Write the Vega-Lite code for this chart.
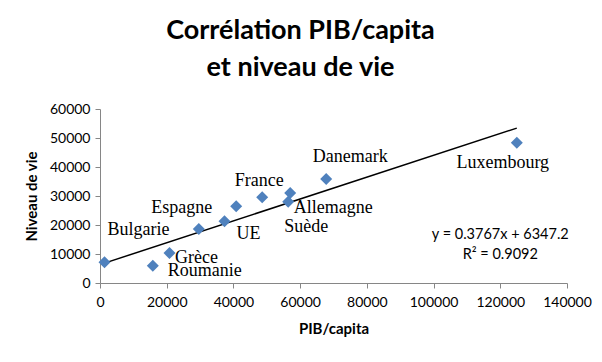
{
  "$schema": "https://vega.github.io/schema/vega-lite/v6.json",
  "width": 467,
  "height": 174,
  "autosize": "none",
  "padding": {"left": 100, "top": 109, "right": 35, "bottom": 79},
  "background": "white",
  "title": {
    "text": ["Corrélation PIB/capita", "et niveau de vie"],
    "font": "Lato",
    "fontSize": 27,
    "fontWeight": "bold",
    "color": "#000000",
    "lineHeight": 37,
    "anchor": "middle",
    "dx": -33,
    "offset": 20
  },
  "datasets": {
    "pays": [
      {"pays": "Bulgarie", "pib": 1350, "niveau": 7140},
      {"pays": "Roumanie", "pib": 15830, "niveau": 5970},
      {"pays": "Grèce", "pib": 20830, "niveau": 10340},
      {"pays": "Espagne", "pib": 29620, "niveau": 18620},
      {"pays": "UE", "pib": 37320, "niveau": 21280},
      {"pays": "", "pib": 40830, "niveau": 26450},
      {"pays": "France", "pib": 48630, "niveau": 29550},
      {"pays": "Allemagne", "pib": 57020, "niveau": 31030},
      {"pays": "Suède", "pib": 56420, "niveau": 28030},
      {"pays": "Danemark", "pib": 67810, "niveau": 35860},
      {"pays": "Luxembourg", "pib": 124950, "niveau": 48380}
    ],
    "tendance": [
      {"pib": 1350, "niveau": 6856},
      {"pib": 124950, "niveau": 53416}
    ],
    "equation": [
      {"txt": "y = 0.3767x + 6347.2", "pib": 120000, "niveau": 16550},
      {"txt": "R² = 0.9092", "pib": 120000, "niveau": 9650}
    ]
  },
  "encoding": {
    "x": {
      "field": "pib",
      "type": "quantitative",
      "title": "PIB/capita",
      "scale": {"domain": [0, 140000], "nice": false, "zero": false},
      "axis": {"values": [0, 20000, 40000, 60000, 80000, 100000, 120000, 140000], "format": "d", "labelPadding": 7, "titlePadding": 12, "labelOverlap": false, "labelFlush": false, "labelBound": false}
    },
    "y": {
      "field": "niveau",
      "type": "quantitative",
      "title": "Niveau de vie",
      "scale": {"domain": [0, 60000], "nice": false, "zero": false},
      "axis": {"values": [0, 10000, 20000, 30000, 40000, 50000, 60000], "format": "d", "labelPadding": 5, "titlePadding": 10, "labelOverlap": false, "labelFlush": false}
    }
  },
  "layer": [
    {
      "data": {"name": "tendance"},
      "mark": {"type": "line", "color": "#000000", "strokeWidth": 1.5},
      "encoding": {}
    },
    {
      "data": {"name": "pays"},
      "mark": {"type": "point", "shape": "diamond", "filled": true, "size": 144, "color": "#4F81BD", "opacity": 1}
    },
    {
      "data": {"name": "pays"},
      "transform": [{"filter": "datum.pays === 'Bulgarie'"}],
      "mark": {"type": "text", "dx": 34, "dy": -27},
      "encoding": {"text": {"field": "pays"}}
    },
    {
      "data": {"name": "pays"},
      "transform": [{"filter": "datum.pays === 'Roumanie'"}],
      "mark": {"type": "text", "dx": 52, "dy": 10},
      "encoding": {"text": {"field": "pays"}}
    },
    {
      "data": {"name": "pays"},
      "transform": [{"filter": "datum.pays === 'Grèce'"}],
      "mark": {"type": "text", "dx": 27, "dy": 10},
      "encoding": {"text": {"field": "pays"}}
    },
    {
      "data": {"name": "pays"},
      "transform": [{"filter": "datum.pays === 'Espagne'"}],
      "mark": {"type": "text", "dx": -17, "dy": -16},
      "encoding": {"text": {"field": "pays"}}
    },
    {
      "data": {"name": "pays"},
      "transform": [{"filter": "datum.pays === 'UE'"}],
      "mark": {"type": "text", "dx": 24, "dy": 18},
      "encoding": {"text": {"field": "pays"}}
    },
    {
      "data": {"name": "pays"},
      "transform": [{"filter": "datum.pays === 'France'"}],
      "mark": {"type": "text", "dx": -3, "dy": -11},
      "encoding": {"text": {"field": "pays"}}
    },
    {
      "data": {"name": "pays"},
      "transform": [{"filter": "datum.pays === 'Allemagne'"}],
      "mark": {"type": "text", "dx": 43, "dy": 20},
      "encoding": {"text": {"field": "pays"}}
    },
    {
      "data": {"name": "pays"},
      "transform": [{"filter": "datum.pays === 'Suède'"}],
      "mark": {"type": "text", "dx": 18, "dy": 30},
      "encoding": {"text": {"field": "pays"}}
    },
    {
      "data": {"name": "pays"},
      "transform": [{"filter": "datum.pays === 'Danemark'"}],
      "mark": {"type": "text", "dx": 24, "dy": -17},
      "encoding": {"text": {"field": "pays"}}
    },
    {
      "data": {"name": "pays"},
      "transform": [{"filter": "datum.pays === 'Luxembourg'"}],
      "mark": {"type": "text", "dx": -14, "dy": 25},
      "encoding": {"text": {"field": "pays"}}
    },
    {
      "data": {"name": "equation"},
      "mark": {"type": "text", "font": "Lato", "fontSize": 14.5, "baseline": "middle"},
      "encoding": {"text": {"field": "txt"}}
    }
  ],
  "config": {
    "view": {"stroke": null},
    "axis": {
      "grid": false,
      "domainColor": "#868686",
      "tickColor": "#868686",
      "tickSize": 5,
      "labelFont": "Lato",
      "labelFontSize": 14,
      "labelColor": "#000000",
      "titleFont": "Lato",
      "titleFontSize": 15,
      "titleFontWeight": "bold",
      "titleColor": "#000000"
    },
    "text": {
      "font": "Liberation Serif",
      "fontSize": 18,
      "baseline": "alphabetic",
      "align": "center",
      "color": "#000000"
    }
  }
}
